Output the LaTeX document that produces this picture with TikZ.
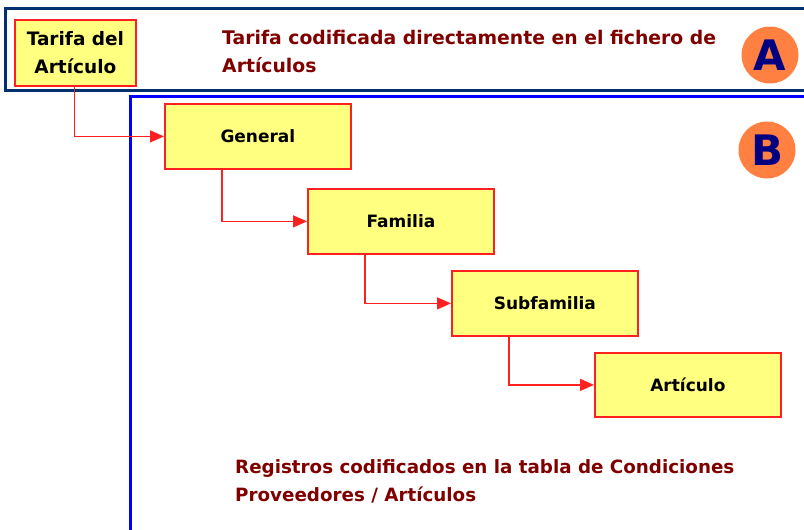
\documentclass[tikz,border=0pt]{standalone}
\usepackage{fontspec}
\setmainfont{DejaVu Sans}
\usetikzlibrary{arrows.meta}
\definecolor{boxfill}{HTML}{FFFF80}
\definecolor{boxline}{HTML}{FF2020}
\definecolor{txtred}{HTML}{800000}
\definecolor{navyA}{HTML}{003070}
\definecolor{orangeC}{HTML}{FF8040}
\definecolor{letterC}{HTML}{000080}
\tikzset{
  levelbox/.style={draw=boxline, line width=1.8pt, fill=boxfill, minimum width=186pt, minimum height=65pt, inner sep=0pt, font=\bfseries\fontsize{17}{20}\selectfont, anchor=north west},
  conn/.style={draw=boxline, line width=1.3pt, -{Triangle[length=14pt,width=12pt]}},
  badge/.style={circle, fill=orangeC, minimum size=57pt, inner sep=0pt, text=letterC, font=\bfseries\fontsize{42}{42}\selectfont},
  note/.style={text=txtred, font=\bfseries\fontsize{18.8}{28}\selectfont, align=left, anchor=north west, inner sep=0pt}
}
\begin{document}
\begin{tikzpicture}[x=1pt,y=-1pt]
\useasboundingbox (0,0) rectangle (804,530);
\fill[white] (0,0) rectangle (804,530);
% frame A
\draw[navyA, line width=3pt] (810,8) -- (5,8) -- (5,90) -- (810,90);
% frame B
\draw[blue, line width=3pt] (130,535) -- (130,96) -- (810,96);
% boxes
\node[levelbox, minimum width=121pt, minimum height=66pt, align=center, font=\bfseries\fontsize{18.5}{28}\selectfont] (tar) at (14,19) {Tarifa del\\Artículo};
\node[levelbox] (gen) at (164,103) {General};
\node[levelbox] (fam) at (307,188) {Familia};
\node[levelbox] (sub) at (451,270) {Subfamilia};
\node[levelbox, minimum height=64pt] (art) at (594,352) {Artículo};
% connectors
\draw[conn] ([xshift=-1pt]tar.south) |- (gen.west);
\draw[conn] ([xshift=-36pt]gen.south) |- (fam.west);
\draw[conn] ([xshift=-36pt]fam.south) |- (sub.west);
\draw[conn] ([xshift=-36pt]sub.south) |- (art.west);
% notes
\node[note] (na) at (222,30) {Tarifa codificada directamente en el fichero de\\Artículos};
\node[note, font=\bfseries\fontsize{18.3}{28}\selectfont] (nb) at (235,459) {Registros codificados en la tabla de Condiciones\\Proveedores / Artículos};
% badges
\node[badge] (ba) at (770,55) {A};
\node[badge] (bb) at (767,150) {B};
\end{tikzpicture}
\end{document}
